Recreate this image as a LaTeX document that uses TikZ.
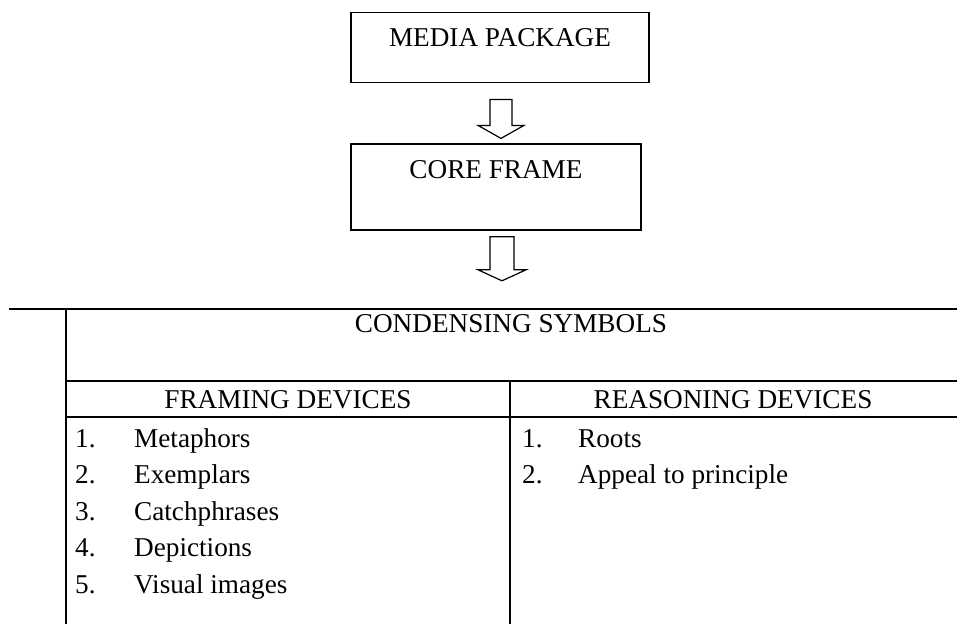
\documentclass[tikz,border=0pt]{standalone}
\usepackage{fontspec}
\setmainfont{Liberation Serif}
\usetikzlibrary{positioning, calc}

\tikzset{
  box/.style={draw, line width=1.4pt, inner xsep=0pt, inner ysep=16pt, text height=18pt},
  hollow/.style={draw, line width=1.2pt, line join=miter},
  rule/.style={line width=2.5pt},
  head/.style={anchor=base, inner sep=0pt},
  item/.style={anchor=base west, inner sep=0pt},
}

\begin{document}
\begin{tikzpicture}[x=1pt, y=-1pt, font=\fontsize{27.2}{31}\selectfont]
    \useasboundingbox (0,0) rectangle (957,624);

    \node[box, minimum width=298pt, text depth=20pt, anchor=north] (media) at (500,12) {MEDIA PACKAGE};
    \node[box, minimum width=290pt, text depth=36pt, below=60pt of media, xshift=-4pt] (core) {CORE FRAME};

    % block arrows
    \coordinate (a1) at ($(media.south)+(1,16)$);
    \draw[hollow] ($(a1)+(-11,0)$) -- ++(0,26) -- ++(-12,0) -- ($(a1)+(0,39)$)
        -- ($(a1)+(23,26)$) -- ++(-12,0) -- ++(0,-26) -- cycle;
    \coordinate (a2) at ($(core.south)+(6,6)$);
    \draw[hollow] ($(a2)+(-12,0)$) -- ++(0,33) -- ++(-12,0) -- ($(a2)+(0,44)$)
        -- ($(a2)+(24,33)$) -- ++(-12,0) -- ++(0,-33) -- cycle;

    % table
    \draw[rule] (9,309) -- (957,309);
    \draw[rule] (66,309) -- (66,624);
    \draw[rule] (66,381) -- (957,381);
    \draw[rule] (510,381) -- (510,624);
    \draw[rule] (66,417) -- (957,417);

    \node[head] (cond) at (511,332) {CONDENSING SYMBOLS};
    \node[head] (framing) at (288,408) {FRAMING DEVICES};
    \node[head] (reasoning) at (733,408) {REASONING DEVICES};

    \foreach \t [count=\i] in {Metaphors, Exemplars, Catchphrases, Depictions, Visual images} {
        \node[item] (fn\i) at (75, {447+36.5*(\i-1)}) {\i.};
        \node[item] (ft\i) at (134, {447+36.5*(\i-1)}) {\t};
    }
    \foreach \t [count=\i] in {Roots, Appeal to principle} {
        \node[item] (rn\i) at (522, {447+36.5*(\i-1)}) {\i.};
        \node[item] (rt\i) at (578, {447+36.5*(\i-1)}) {\t};
    }
\end{tikzpicture}
\end{document}
